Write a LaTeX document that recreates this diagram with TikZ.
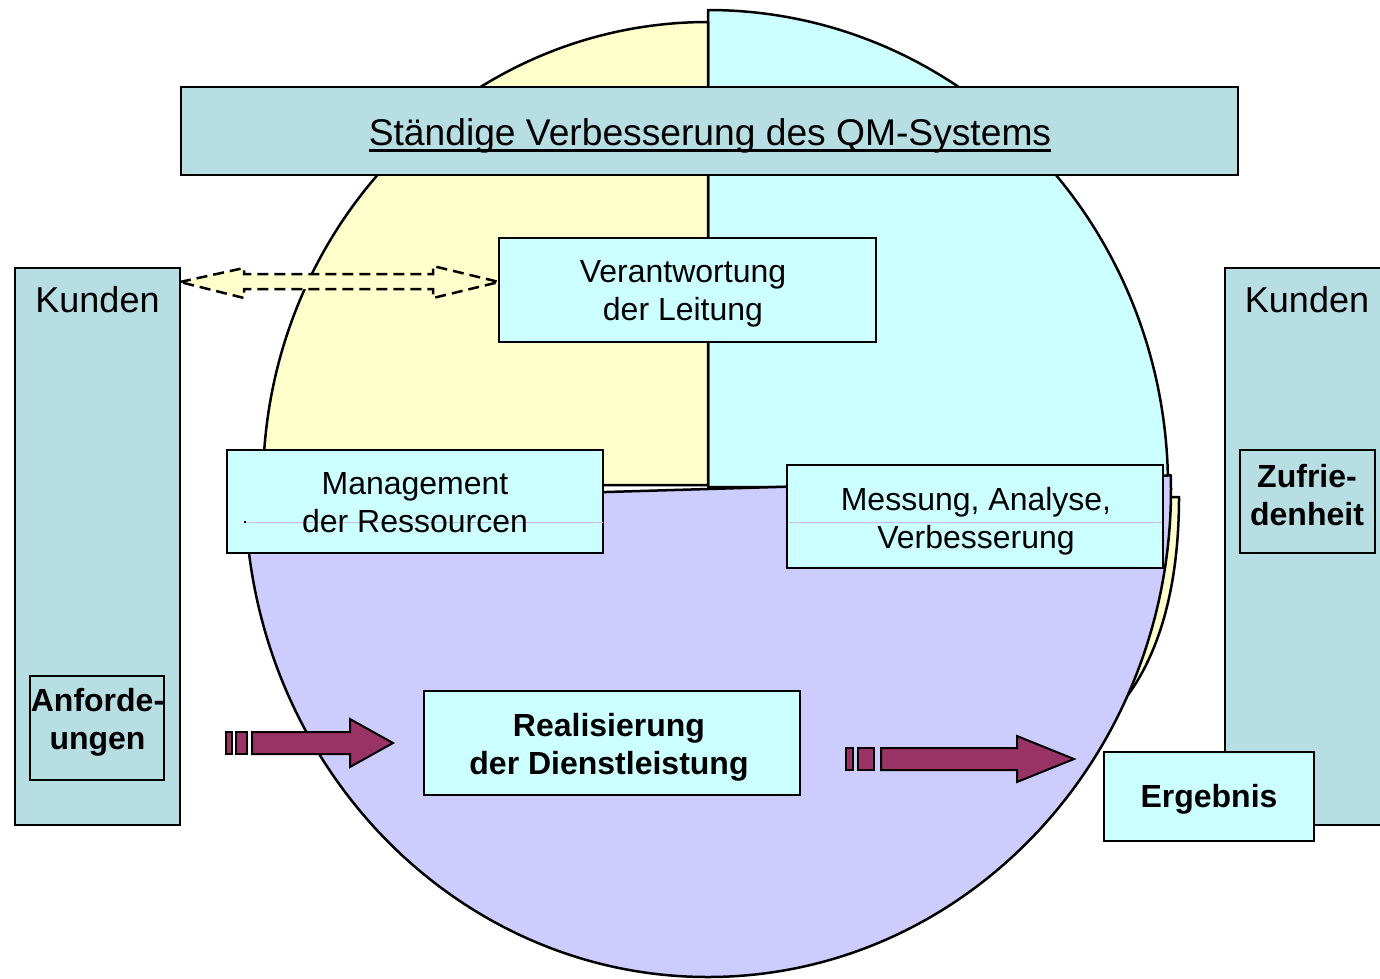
\documentclass[tikz,border=0pt]{standalone}
\usepackage{fontspec}
\setmainfont{Liberation Sans}
\usetikzlibrary{calc}

\definecolor{qmteal}{HTML}{B7DEE3}
\definecolor{qmcyan}{HTML}{CCFFFF}
\definecolor{qmyellow}{HTML}{FFFFCC}
\definecolor{qmlav}{HTML}{CCCCFF}
\definecolor{qmarrow}{HTML}{993366}
\definecolor{qmfaint}{HTML}{C9B8F2}

% thick underline for the headline
\newcommand{\qmul}[1]{\setbox0\hbox{#1}\rlap{\rule[-6.5pt]{\wd0}{3pt}}\box0}

\tikzset{
  every node/.style={inner sep=0pt, outer sep=0pt},
  sector/.style={draw=black, line width=2.5pt, line join=round},
  panel/.style={draw=black, line width=2.5pt, fill=qmteal, anchor=north west},
  stepbox/.style={draw=black, line width=2.5pt, fill=qmcyan, anchor=north west},
  bodytext/.style={font=\fontsize{32}{38}\selectfont, align=center},
  boldtext/.style={font=\fontsize{32}{38}\selectfont\bfseries, align=center},
  bigtext/.style={font=\fontsize{36}{43}\selectfont},
  dasharrow/.style={draw=black, fill=qmyellow, line width=2.5pt, dash pattern=on 11pt off 6pt, line join=miter},
  blockarr/.style={draw=black, fill=qmarrow, line width=2pt, line join=miter},
}

\begin{document}
\begin{tikzpicture}[x=1pt, y=1pt, yscale=-1]
\useasboundingbox (0,0) rectangle (1380,978);
\fill[white] (0,0) rectangle (1380,978);

% pie sectors of the process circle
\filldraw[sector, fill=qmcyan] (708,487) -- (708,10)
  arc[start angle=-90, end angle=0, x radius=460, y radius=477] -- cycle;
\filldraw[sector, fill=qmyellow] (708,485) -- (708,22)
  arc[start angle=-90, end angle=-180, x radius=445, y radius=463] -- cycle;
\filldraw[sector, fill=qmyellow] (1140,497) -- (1179,497)
  .. controls (1179,580) and (1162,648) .. (1128,695) -- (1100,690) -- cycle;
\filldraw[sector, fill=qmlav] (1170.8,475.4)
  arc[start angle=-1.6, end angle=178.4, x radius=463, y radius=488] -- (708,489) -- cycle;

% headline bar
\node[panel, minimum width=1057pt, minimum height=88pt] (title) at (181,87) {};
\node[bigtext, font=\fontsize{37.2}{44}\selectfont, anchor=base] (title-t) at (710,145)
  {\qmul{Ständige Verbesserung des QM-Systems}};

% customer columns
\node[panel, minimum width=165pt, minimum height=557pt] (kl) at (15,268) {};
\node[panel, minimum width=167pt, minimum height=557pt] (kr) at (1225,268) {};
\node[bigtext, anchor=base] (kl-t) at (97.5,312) {Kunden};
\node[bigtext, anchor=base] (kr-t) at (1307,312) {Kunden};

\node[panel, minimum width=134pt, minimum height=104pt] (anf) at (30,676) {};
\node[boldtext] (anf-t) at (97.5,722) {Anforde-\\ungen};
\node[panel, minimum width=135pt, minimum height=103pt] (zuf) at (1240,450) {};
\node[boldtext] (zuf-t) at (1307,495.5) {Zufrie-\\denheit};

% process steps
\node[stepbox, minimum width=377pt, minimum height=104pt] (ver) at (499,238) {};
\node[bodytext] (ver-t) at (683,294) {Verantwortung\\der Leitung};

\node[stepbox, minimum width=376pt, minimum height=103pt] (man) at (227,450) {};
\draw[qmfaint, line width=1pt] (245,522) -- (603,522);
\fill[black] (244,521) rectangle (246,523);
\node[bodytext] (man-t) at (415,502.5) {Management\\der Ressourcen};

\node[stepbox, minimum width=376pt, minimum height=103pt] (mes) at (787,465) {};
\draw[qmfaint, line width=1pt] (789,522) -- (1162,522);
\node[bodytext] (mes-t) at (976,521) {Messung, Analyse,\\Verbesserung};

\node[stepbox, minimum width=376pt, minimum height=104pt] (rea) at (424,691) {};
\node[boldtext] (rea-t) at (609,747) {Realisierung\\der Dienstleistung};

\node[stepbox, minimum width=210pt, minimum height=89pt] (erg) at (1104,752) {};
\node[boldtext, anchor=base] (erg-t) at (1209,807) {Ergebnis};

% dashed information arrow between customers and management
\coordinate (da) at (kl.east |- 0,282);
\coordinate (db) at (ver.west |- 0,282);
\draw[dasharrow] (da) -- ($(da)+(64,-14)$) -- ($(da)+(64,-8)$) -- ($(db)+(-66,-8)$)
  -- ($(db)+(-66,-16)$) -- (db) -- ($(db)+(-66,16)$) -- ($(db)+(-66,7)$)
  -- ($(da)+(64,7)$) -- ($(da)+(64,16)$) -- cycle;

% input arrow
\coordinate (s1) at (226,743);
\coordinate (t1) at (393,743);
\draw[blockarr] ($(s1)+(0,-11)$) rectangle ($(s1)+(6,11)$);
\draw[blockarr] ($(s1)+(10,-11)$) rectangle ($(s1)+(21,11)$);
\draw[blockarr] ($(s1)+(26,-11)$) -- ($(t1)+(-43,-11)$) -- ($(t1)+(-43,-24)$) -- (t1)
  -- ($(t1)+(-43,24)$) -- ($(t1)+(-43,11)$) -- ($(s1)+(26,11)$) -- cycle;

% output arrow
\coordinate (s2) at (846,759);
\coordinate (t2) at (1074,759);
\draw[blockarr] ($(s2)+(0,-11)$) rectangle ($(s2)+(7,11)$);
\draw[blockarr] ($(s2)+(12,-11)$) rectangle ($(s2)+(28,11)$);
\draw[blockarr] ($(s2)+(35,-11)$) -- ($(t2)+(-57,-11)$) -- ($(t2)+(-57,-23)$) -- (t2)
  -- ($(t2)+(-57,23)$) -- ($(t2)+(-57,11)$) -- ($(s2)+(35,11)$) -- cycle;
\end{tikzpicture}
\end{document}
